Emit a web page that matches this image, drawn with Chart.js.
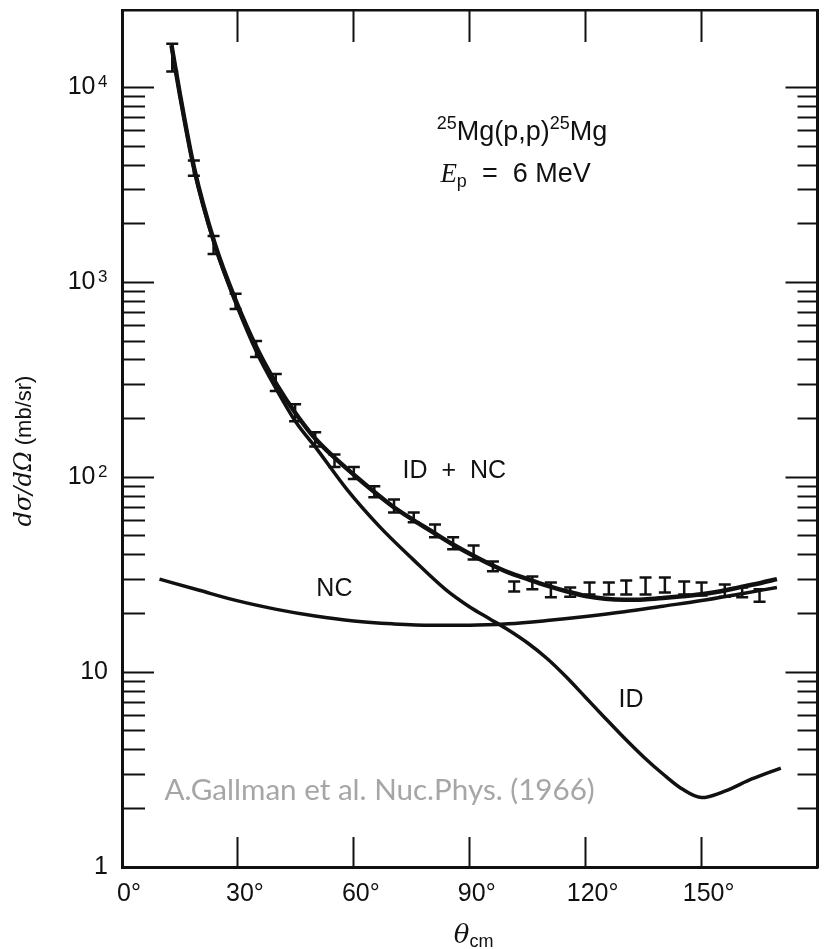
<!DOCTYPE html>
<html>
<head>
<meta charset="utf-8">
<title>25Mg(p,p)25Mg elastic scattering, Ep = 6 MeV</title>
<script src="https://cdn.jsdelivr.net/npm/chart.js@4.4.1/dist/chart.umd.min.js"></script>
<style>
  html, body { margin: 0; padding: 0; background: #fff; }
  #chart { display: block; }
</style>
</head>
<body>
<canvas id="chart" width="826" height="949"></canvas>
<script>
// values: angle in degrees (cm), cross section in mb/sr

// ID + NC curve
const sumAngle = [12.8, 15, 18.6, 24, 29.4, 35, 40, 45, 50, 55, 60, 65, 70, 75, 80, 85, 90, 95, 100, 105,
  110, 115, 120, 125, 130, 135, 140, 145, 150, 155, 160, 165, 169.5];
const sumValue = [16500, 9200, 3900, 1580, 810, 455, 300, 212, 158, 126, 103, 85, 71, 61, 53, 46, 40.5, 36, 32.5, 30,
  27.8, 26, 24.6, 23.8, 23.5, 23.6, 24, 24.5, 25.1, 26, 27.3, 28.6, 30];

// NC curve
const ncAngle = [9.7, 20, 30, 40, 50, 60, 70, 80, 90, 100, 110, 120, 130, 140, 150, 160, 169.5];
const ncValue = [30, 26.3, 23.2, 21.0, 19.4, 18.3, 17.7, 17.4, 17.4, 17.7, 18.4, 19.3, 20.4, 21.8, 23.3, 25.2, 27.2];

// ID curve
const idAngle = [12.8, 15, 18.6, 24, 29.4, 35, 40, 45, 50.5, 58.2, 66.6, 75.3, 83.7, 90, 95, 100, 105, 110,
  115, 120, 125, 130, 135, 140, 145, 150, 156, 163, 170.5];
const idValue = [16400, 9150, 3870, 1550, 787, 432, 282, 192, 139, 86.7, 56, 37.9, 26.6, 21.6, 18.85, 16.46, 14.11, 11.75,
  9.44, 7.41, 5.82, 4.59, 3.67, 3.0, 2.51, 2.27, 2.45, 2.83, 3.22];

// measured points, error bar low / high
const errAngle = [13, 18.6, 23.7, 29.4, 34.7, 39.8, 44.8, 50, 55, 60, 65.3, 70.4, 75.5, 81, 85.7, 91, 96,
  101.5, 106.2, 111, 116, 121, 126, 130.5, 135.5, 140.5, 145.5, 150, 156, 160.5, 165];
const errLow = [12100, 3530, 1400, 730, 414, 277, 194, 144, 113, 98, 79, 66, 58.7, 49.2, 42.7, 37.9, 32.9,
  25.9, 26.6, 24.2, 24.4, 25, 25, 25, 25, 25.6, 25, 24.7, 24.4, 24.2, 23];
const errHigh = [16800, 4220, 1730, 875, 500, 339, 237, 170, 131, 113, 90, 77, 66, 57.3, 49.2, 44.7, 37,
  29.2, 31, 28.8, 27.2, 28.8, 28.8, 29.5, 30.6, 30.6, 29.2, 28.8, 28.2, 27.2, 26.6];

// axes
const xTickValues = [0, 30, 60, 90, 120, 150];
const xTickLabels = ['0°', '30°', '60°', '90°', '120°', '150°'];
const yMajorTicks = [1, 10, 100, 1000, 10000];
const yTickBase = ['1', '10', '10', '10', '10'];
const yTickPower = ['', '', '2', '3', '4'];
const yMinorTicks = [];
[1, 10, 100, 1000].forEach(d => {
  for (let m = 2; m <= 9; m++) yMinorTicks.push(m * d);
});

const INK = '#111';
const SANS = '"Liberation Sans", "DejaVu Sans", Arial, sans-serif';

function toPoints(xs, ys) {
  return xs.map((x, i) => ({ x: x, y: ys[i] }));
}

// each bar is a two point segment, broken from the next by a null
const errData = [];
errAngle.forEach((a, i) => {
  errData.push({ x: a, y: errLow[i] });
  errData.push({ x: a, y: errHigh[i] });
  errData.push({ x: a, y: null });
});

// draw a row of text pieces with different fonts
function drawRuns(ctx, runs, x, y, align) {
  let total = 0;
  runs.forEach(r => {
    ctx.font = r.font;
    r.w = ctx.measureText(r.text).width;
    total += r.w;
  });
  let cx = x;
  if (align === 'right') cx = x - total;
  if (align === 'center') cx = x - total / 2;
  runs.forEach(r => {
    ctx.font = r.font;
    ctx.fillText(r.text, cx, y + (r.dy || 0));
    cx += r.w;
  });
}

const textPlugin = {
  id: 'texts',
  afterDraw(chart) {
    const ctx = chart.ctx;
    const px = v => chart.scales.x.getPixelForValue(v);
    const py = v => chart.scales.y.getPixelForValue(v);
    ctx.save();
    ctx.fillStyle = INK;
    ctx.textAlign = 'left';

    // exponents of the y tick labels
    ctx.textBaseline = 'middle';
    ctx.font = '17px ' + SANS;
    yMajorTicks.forEach((v, i) => {
      if (yTickPower[i]) ctx.fillText(yTickPower[i], chart.chartArea.left - 24, py(v) - 5);
    });

    // reaction and beam energy
    ctx.textBaseline = 'alphabetic';
    drawRuns(ctx, [
      { text: '25', font: '18px ' + SANS, dy: -11 },
      { text: 'Mg(p,p)', font: '27px ' + SANS },
      { text: '25', font: '18px ' + SANS, dy: -11 },
      { text: 'Mg', font: '27px ' + SANS }
    ], px(125.6), py(5380), 'right');
    drawRuns(ctx, [
      { text: 'E', font: 'italic 27px "Liberation Serif", serif' },
      { text: 'p', font: '18px ' + SANS, dy: 5 },
      { text: '  =  6 MeV', font: '27px ' + SANS }
    ], px(121.3), py(3275), 'right');

    // curve labels
    ctx.textBaseline = 'middle';
    ctx.font = '25px ' + SANS;
    ctx.fillText('ID  +  NC', px(72.6), py(108));
    ctx.fillText('NC', px(50.3), py(26.7));
    ctx.fillText('ID', px(128.5), py(7.2));

    // source note
    ctx.textBaseline = 'alphabetic';
    ctx.fillStyle = '#a6a6a6';
    ctx.font = '28px Lato, "Open Sans", sans-serif';
    const note = 'A.Gallman et al. Nuc.Phys. (1966)';
    const size = 28 * 430 / ctx.measureText(note).width;
    ctx.font = size.toFixed(1) + 'px Lato, "Open Sans", sans-serif';
    ctx.fillText(note, px(11), py(2.21));

    // axis titles
    ctx.fillStyle = INK;
    drawRuns(ctx, [
      { text: 'θ', font: 'italic 26px "DejaVu Serif", serif' },
      { text: 'cm', font: '18px ' + SANS, dy: 4 }
    ], px(91), 943, 'center');

    ctx.translate(25, 451);
    ctx.rotate(-Math.PI / 2);
    ctx.textBaseline = 'middle';
    drawRuns(ctx, [
      { text: 'dσ/dΩ', font: 'italic 24px "DejaVu Serif", serif' },
      { text: ' (mb/sr)', font: '22px ' + SANS }
    ], 0, 0, 'center');
    ctx.restore();
  }
};

function noPad(s) {
  s.paddingLeft = 0; s.paddingRight = 0; s.paddingTop = 0; s.paddingBottom = 0;
}

function inwardGrid(len) {
  return { display: true, drawOnChartArea: false, drawTicks: true, tickLength: -len, tickWidth: 2, tickColor: INK };
}

new Chart(document.getElementById('chart'), {
  type: 'line',
  data: {
    datasets: [
      { label: 'ID + NC', data: toPoints(sumAngle, sumValue), borderColor: INK, borderWidth: 4.5,
        pointRadius: 0, cubicInterpolationMode: 'monotone', fill: false },
      { label: 'NC', data: toPoints(ncAngle, ncValue), borderColor: INK, borderWidth: 3.5,
        pointRadius: 0, cubicInterpolationMode: 'monotone', fill: false },
      { label: 'ID', data: toPoints(idAngle, idValue), borderColor: INK, borderWidth: 3.5,
        pointRadius: 0, cubicInterpolationMode: 'monotone', fill: false },
      { label: 'data', data: errData, borderColor: INK, borderWidth: 2.5, tension: 0, spanGaps: false,
        pointStyle: 'line', pointRadius: 6, pointBorderWidth: 2.5, pointBorderColor: INK, fill: false }
    ]
  },
  options: {
    responsive: false,
    devicePixelRatio: 1,
    animation: false,
    events: [],
    layout: { padding: { top: 10, right: 2, left: 0, bottom: 0 } },
    plugins: { legend: { display: false }, tooltip: { enabled: false } },
    scales: {
      x: {
        type: 'linear', position: 'bottom', min: 0, max: 180, weight: 1,
        border: { display: true, width: 3, color: INK },
        grid: inwardGrid(30),
        ticks: {
          autoSkip: false, maxRotation: 0, padding: 42, labelOffset: 7, color: INK,
          font: { family: SANS, size: 25 },
          callback: v => xTickLabels[xTickValues.indexOf(v)] ?? ''
        },
        afterBuildTicks: s => { s.ticks = xTickValues.map(v => ({ value: v })); },
        afterFit: s => { s.height = 82; noPad(s); }
      },
      x2: {
        type: 'linear', position: 'top', min: 0, max: 180,
        border: { display: true, width: 2.5, color: INK },
        grid: inwardGrid(32),
        ticks: { display: false },
        afterBuildTicks: s => { s.ticks = xTickValues.map(v => ({ value: v })); },
        afterFit: s => { s.height = 0; noPad(s); }
      },
      y: {
        type: 'logarithmic', position: 'left', min: 1, max: 25000, weight: 1,
        border: { display: true, width: 3, color: INK },
        grid: inwardGrid(32),
        ticks: {
          autoSkip: false, padding: 46, color: INK,
          font: { family: SANS, size: 25 },
          // leave room after "10" for the exponent drawn by the text plugin
          callback: v => {
            const i = yMajorTicks.indexOf(v);
            if (i < 0) return '';
            return yTickBase[i] + (yTickPower[i] ? '\u2002' : '');
          }
        },
        afterBuildTicks: s => { s.ticks = yMajorTicks.map(v => ({ value: v })); },
        afterFit: s => { s.width = 122; noPad(s); }
      },
      yMinor: {
        type: 'logarithmic', position: 'left', min: 1, max: 25000, weight: 0,
        border: { display: false },
        grid: inwardGrid(23),
        ticks: { display: false, autoSkip: false },
        afterBuildTicks: s => { s.ticks = yMinorTicks.map(v => ({ value: v })); },
        afterFit: s => { s.width = 0; noPad(s); }
      },
      y2: {
        type: 'logarithmic', position: 'right', min: 1, max: 25000, weight: 1,
        border: { display: true, width: 3, color: INK },
        grid: inwardGrid(32),
        ticks: { display: false, autoSkip: false },
        afterBuildTicks: s => { s.ticks = yMajorTicks.map(v => ({ value: v })); },
        afterFit: s => { s.width = 0; noPad(s); }
      },
      y2Minor: {
        type: 'logarithmic', position: 'right', min: 1, max: 25000, weight: 0,
        border: { display: false },
        grid: inwardGrid(20),
        ticks: { display: false, autoSkip: false },
        afterBuildTicks: s => { s.ticks = yMinorTicks.map(v => ({ value: v })); },
        afterFit: s => { s.width = 0; noPad(s); }
      }
    }
  },
  plugins: [textPlugin]
});
</script>
</body>
</html>
